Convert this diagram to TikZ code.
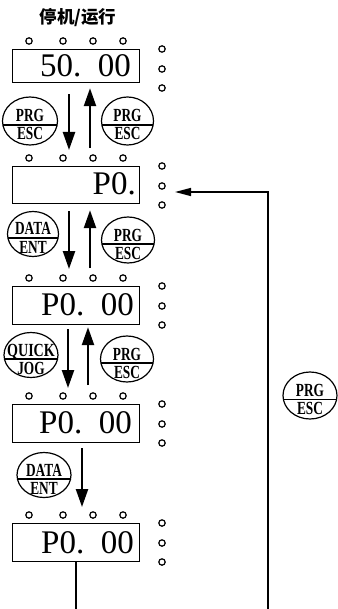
\documentclass[tikz,border=0pt]{standalone}
\usepackage{fontspec}
\usepackage{graphicx}
\newfontfamily\cjk{Noto Sans CJK SC}
\newfontfamily\lcdfont{Liberation Serif}
\usetikzlibrary{arrows.meta,shapes.geometric}
\newcommand\sq[2][0.72]{\scalebox{#1}[1]{#2}}
\newcommand\lcdbox[6]{%
  \node[lcd, minimum height=#3pt] (#1) at (12,#2) {};
  \node[lcdtext, anchor=base east] (#1t) at (#5,#6) {#4};
  \foreach \xx in {29,63,93,123} \draw[dot] (\xx,#2-8) circle (3.2pt);
  \foreach \dy in {0,20,39} \draw[dot] (162,#2+\dy) circle (3.2pt);
}
\newcommand\btn[7]{%
  \node[btnshape, minimum width=#4pt, minimum height=#5pt] (#1) at (#2,#3) {};
  \draw[btnline] ([yshift=-4pt,xshift=1.5pt]#1.west) -- ([yshift=-4pt,xshift=-1.5pt]#1.east);
  \node[btntext, anchor=base] (#1a) at ([yshift=-1pt]#1.center) {#6};
  \node[btntext, anchor=base] (#1b) at ([yshift=-19pt]#1.center) {#7};
}
\begin{document}
\begin{tikzpicture}[x=1pt,y=-1pt,
  lcd/.style={draw, line width=1.2pt, minimum width=127pt, anchor=north west, inner sep=0pt},
  lcdtext/.style={inner sep=0pt, font=\lcdfont\fontsize{33}{36}\selectfont},
  dot/.style={line width=1.2pt},
  btnshape/.style={draw, ellipse, line width=1.2pt, inner sep=0pt},
  btnline/.style={line width=1.2pt},
  btntext/.style={inner sep=0pt, font=\lcdfont\fontsize{18.5}{20}\selectfont\bfseries},
  arr/.style={line width=2.4pt, -{Triangle[length=18pt,width=12pt]}},
  conn/.style={line width=1.4pt},
  harr/.style={line width=1.4pt, -{Triangle[length=16pt,width=8pt]}},
  titlestyle/.style={inner sep=0pt, font=\fontsize{17.5}{19}\selectfont\cjk\bfseries}
]
\useasboundingbox (0,0) rectangle (337,609);

\node[titlestyle] (title) at (78,18) {停机/运行};

\lcdbox{b1}{49}{33}{50.\hspace{0.5em}00}{131}{77}
\lcdbox{b2}{166}{37}{P0.}{136}{195}
\lcdbox{b3}{286}{38}{P0.\hspace{0.5em}00}{134}{315}
\lcdbox{b4}{404}{38}{P0.\hspace{0.5em}00}{132}{433}
\lcdbox{b5}{523}{38}{P0.\hspace{0.5em}00}{134}{553}

\btn{k1}{30}{121}{55}{48}{\sq{PRG}}{\sq{ESC}}
\btn{k2}{127.5}{121}{52}{48}{\sq{PRG}}{\sq{ESC}}
\btn{k3}{33}{234}{51}{45}{\sq{DATA}}{\sq{ENT}}
\btn{k4}{128}{240}{53}{46}{\sq{PRG}}{\sq{ESC}}
\btn{k5}{31}{355}{54}{45}{\sq[0.76]{QUICK}}{\sq{JOG}}
\btn{k6}{127}{359}{53}{46}{\sq{PRG}}{\sq{ESC}}
\btn{k7}{44}{475}{54}{45}{\sq{DATA}}{\sq{ENT}}
\btn{k8}{310}{395.5}{54}{47}{\sq{PRG}}{\sq{ESC}}

% arrows
\draw[arr] ([xshift=57pt,yshift=-11pt]b1.south west) -- ([xshift=57pt,yshift=16pt]b2.north west);
\draw[arr] ([xshift=78pt,yshift=18pt]b2.north west) -- ([xshift=78pt,yshift=-5pt]b1.south west);
\draw[arr] ([xshift=57pt,yshift=-7pt]b2.south west) -- ([xshift=57pt,yshift=17pt]b3.north west);
\draw[arr] ([xshift=78pt,yshift=18pt]b3.north west) -- ([xshift=78pt,yshift=-6pt]b2.south west);
\draw[arr] ([xshift=56pt,yshift=-4pt]b3.south west) -- ([xshift=56pt,yshift=16pt]b4.north west);
\draw[arr] ([xshift=76pt,yshift=19pt]b4.north west) -- ([xshift=76pt,yshift=-2pt]b3.south west);
\draw[arr] ([xshift=70pt,yshift=-5pt]b4.south west) -- ([xshift=70pt,yshift=16pt]b5.north west);

% bottom loop
\coordinate (lb) at (0,609);
\coordinate (rb) at (268,609);
\coordinate (a2) at (175,192);
\draw[conn] (b5.south) -- (b5.south |- lb);
\draw[harr] (rb) |- (a2);
\end{tikzpicture}
\end{document}
